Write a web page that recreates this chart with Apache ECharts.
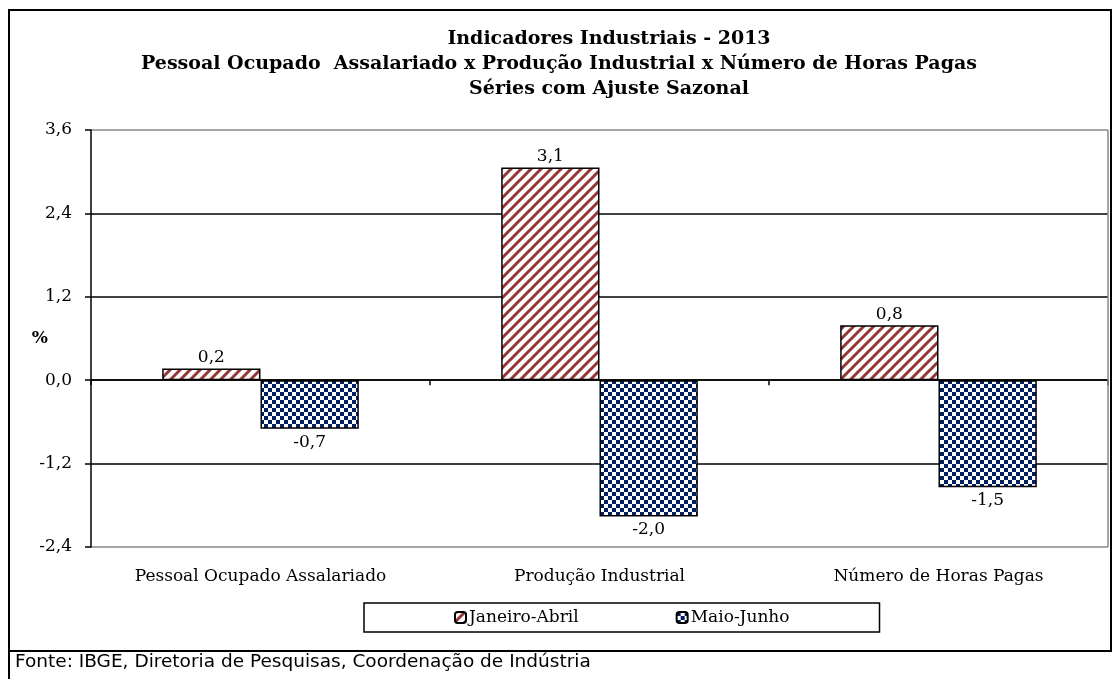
<!DOCTYPE html>
<html>
<head>
<meta charset="UTF-8">
<title>Indicadores Industriais - 2013</title>
<script src="https://cdn.jsdelivr.net/npm/echarts@6/dist/echarts.min.js"></script>
<style>
	html, body{
		margin:0;
		padding:0;
		background:#fff;
	}
	#chart{
		width:1118px;
		height:679px;
	}
</style>
</head>
<body>
<div id="chart"></div>
<script>
	var categorias = ["Pessoal Ocupado Assalariado", "Produção Industrial", "Número de Horas Pagas"];
	var nomesSeries = ["Janeiro-Abril", "Maio-Junho"];
	var janeiroAbril = [0.17, 3.06, 0.79];
	var maioJunho = [-0.70, -1.96, -1.54];
	var yMin = -2.4, yMax = 3.6, yPasso = 1.2;

	var serif = "DejaVu Serif";

	/* padrões de preenchimento (listras e xadrez) */
	function listras(){
		var c = document.createElement("canvas");
		c.width = 10; c.height = 10;
		var g = c.getContext("2d");
		g.fillStyle = "#fff";
		g.fillRect(0, 0, 10, 10);
		g.strokeStyle = "#953735";
		g.lineWidth = 3;
		g.beginPath();
		g.moveTo(-2, 12); g.lineTo(12, -2);
		g.moveTo(-7, 7); g.lineTo(7, -7);
		g.moveTo(3, 17); g.lineTo(17, 3);
		g.stroke();
		return c;
	}
	function xadrez(){
		var c = document.createElement("canvas");
		c.width = 8; c.height = 8;
		var g = c.getContext("2d");
		g.fillStyle = "#fff";
		g.fillRect(0, 0, 8, 8);
		g.fillStyle = "#002060";
		g.fillRect(0, 0, 4, 4);
		g.fillRect(4, 4, 4, 4);
		return c;
	}

	function fmt(v){
		return (Math.round(v * 10) / 10).toFixed(1).replace(".", ",");
	}

	var myChart = echarts.init(document.getElementById("chart"));
	var tituloFonte = {fontFamily:serif, fontWeight:"bold", fontSize:19, lineHeight:25, color:"#000"};
	var option = {
		animation:false,
		textStyle:{fontFamily:serif, color:"#000"},
		title:{
			/* a 1ª e a 3ª linha ficam um pouco à direita, como no original */
			text:"{d|Indicadores Industriais - 2013}\n{c|Pessoal Ocupado  Assalariado x Produção Industrial x Número de Horas Pagas}\n{d|Séries com Ajuste Sazonal}",
			left:"center",
			top:22,
			textStyle:{
				fontFamily:serif, fontWeight:"bold", fontSize:19, lineHeight:25, color:"#000",
				rich:{
					c:tituloFonte,
					d:echarts.util.extend({padding:[0, 0, 0, 100]}, tituloFonte)
				}
			}
		},
		legend:{
			data:nomesSeries,
			left:364,
			top:603,
			padding:[6, 90, 6, 90],
			itemGap:97,
			itemWidth:11,
			itemHeight:11,
			borderColor:"#000",
			borderWidth:1.5,
			textStyle:{fontFamily:serif, fontSize:17, color:"#000", padding:[0, 0, 0, -2]}
		},
		grid:{left:91, right:10, top:130, bottom:132},
		xAxis:[{
			type:"category",
			data:categorias,
			position:"bottom",
			axisLine:{show:false, onZero:false},
			axisTick:{show:false},
			axisLabel:{fontFamily:serif, fontSize:17, color:"#000", margin:21}
		},{
			type:"category",
			data:categorias,
			position:"bottom",
			axisLine:{show:true, onZero:true, lineStyle:{color:"#000", width:1.5}},
			axisTick:{show:true, length:5, lineStyle:{color:"#000", width:1.5}},
			axisLabel:{show:false}
		}],
		yAxis:{
			type:"value",
			min:yMin,
			max:yMax,
			interval:yPasso,
			name:"%",
			nameLocation:"middle",
			nameRotate:0,
			nameGap:43,
			nameMoveOverlap:false,
			nameTextStyle:{fontFamily:serif, fontWeight:"bold", fontSize:17, color:"#000"},
			axisLine:{show:true, lineStyle:{color:"#000", width:1.5}},
			axisTick:{show:true, length:6, lineStyle:{color:"#000", width:1.5}},
			axisLabel:{fontFamily:serif, fontSize:17, color:"#000", margin:19, formatter:fmt},
			splitLine:{lineStyle:{color:["#888", "#000", "#000", "#000", "#000", "#888"], width:1.5}}
		},
		graphic:[
			{type:"line", shape:{x1:1108, y1:130, x2:1108, y2:547}, style:{stroke:"#888", lineWidth:1.5}, z:1},
			{type:"rect", shape:{x:9, y:10, width:1102, height:641}, style:{fill:null, stroke:"#000", lineWidth:2}},
			{type:"line", shape:{x1:9, y1:651, x2:9, y2:679}, style:{stroke:"#000", lineWidth:2}},
			{type:"text", left:15, top:653, style:{text:"Fonte: IBGE, Diretoria de Pesquisas, Coordenação de Indústria", fontFamily:"DejaVu Sans", fontSize:18.5, fill:"#000"}}
		],
		series:[{
			name:nomesSeries[0],
			type:"bar",
			data:janeiroAbril,
			barGap:"0%",
			barCategoryGap:"42%",
			itemStyle:{color:{image:listras(), repeat:"repeat"}, borderColor:"#000", borderWidth:1.5},
			label:{show:true, position:"top", distance:2, fontFamily:serif, fontSize:17, color:"#000", formatter:function(p){return fmt(p.value);}}
		},{
			name:nomesSeries[1],
			type:"bar",
			data:maioJunho,
			barGap:"0%",
			barCategoryGap:"42%",
			itemStyle:{color:{image:xadrez(), repeat:"repeat"}, borderColor:"#000", borderWidth:1.5},
			label:{show:true, position:"bottom", distance:5, fontFamily:serif, fontSize:17, color:"#000", formatter:function(p){return fmt(p.value);}}
		}]
	};
	myChart.setOption(option);
</script>
</body>
</html>
